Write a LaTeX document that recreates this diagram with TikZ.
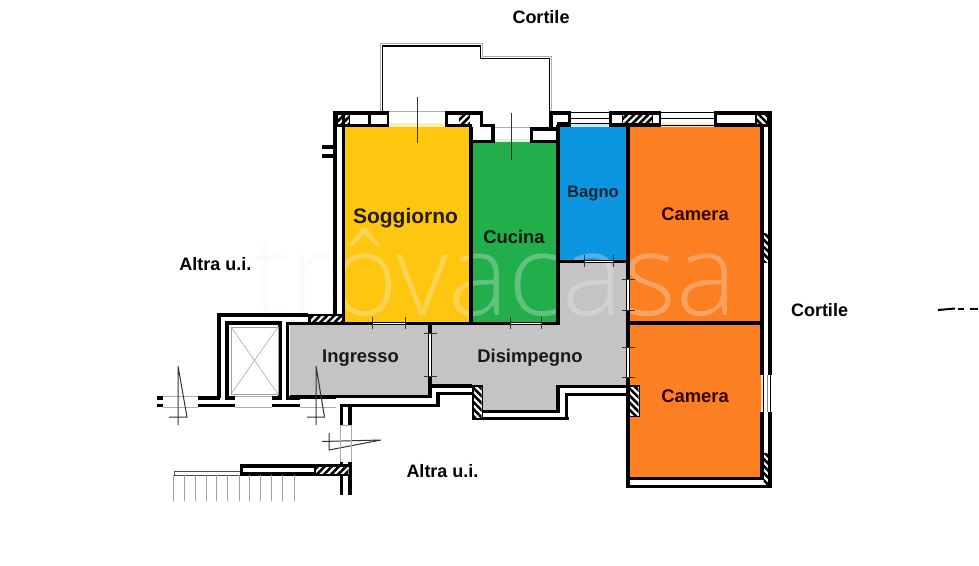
\documentclass[tikz,border=0pt]{standalone}
\usepackage{fontspec}
\setmainfont{Liberation Sans}
\usetikzlibrary{patterns.meta}
\definecolor{cyel}{HTML}{FFC60F}
\definecolor{cgrn}{HTML}{22AE4A}
\definecolor{cblu}{HTML}{0C96E0}
\definecolor{corg}{HTML}{FC7F22}
\definecolor{cgry}{HTML}{C4C4C4}
\definecolor{cthin}{HTML}{8A8A8A}
\definecolor{cwm}{HTML}{F2F2F2}
\tikzset{
  x=1pt,y=-1pt,
  wall/.style={line width=3.5pt,black,line cap=butt,line join=miter},
  pale/.style={line width=.7pt,cthin!70},
  tickl/.style={line width=1pt,black!80},
  hatchp/.style={pattern={Lines[angle=45,distance=5pt,line width=2.6pt]},pattern color=black},
  hatchn/.style={pattern={Lines[angle=-45,distance=5pt,line width=2.6pt]},pattern color=black},
  whitebox/.style={fill=white,draw=none},
  lbl/.style={font=\bfseries\fontsize{#1}{#1}\selectfont,inner sep=0pt},
  lbl/.default=17
}
\newcommand{\hatchbox}[5]{\fill[white] (#2,#3) rectangle (#4,#5); \fill[#1] (#2,#3) rectangle (#4,#5);}
\newcommand{\doortick}[2]{\draw[tickl] (#1-6.5,#2) -- (#1+6.5,#2);}
\newcommand{\doortickv}[2]{\draw[tickl] (#1,#2-6) -- (#1,#2+6);}
\begin{document}
\begin{tikzpicture}
\useasboundingbox (0,0) rectangle (979,565);
\fill[white] (0,0) rectangle (979,565);
% rooms
\fill[cyel] (345,127) rectangle (470,322);
\fill[cgrn] (472,142) rectangle (558,322);
\fill[cblu] (559,127) rectangle (628,261);
\fill[corg] (629,127) rectangle (761,322);
\fill[corg] (629,324) rectangle (761,478);
\fill[cgry] (290,325) -- (429,325) -- (429,396) -- (290,396) -- cycle;
\fill[cgry] (431,325) -- (558,325) -- (558,263) -- (628,263) -- (628,385) -- (558,385) -- (558,411) -- (482,411) -- (482,385) -- (431,385) -- cycle;
% window reflections
\fill[cyel!30] (389,123) rectangle (445,127);
\fill[cgrn!15] (492,139) rectangle (531,142);
\fill[cblu!20] (571,123) rectangle (609,127);
\fill[corg!20] (662,123) rectangle (713,127);
% watermark
\node[inner sep=0pt,text=cwm,opacity=.3] (wm) at (494,272)
  {\fontspec{Open Sans Light}\fontsize{114}{114}\selectfont tr\^ovacasa};
% balcony
\draw[line width=.9pt,black!32] (380.5,111) -- (380.5,43.5) -- (482.5,43.5) -- (482.5,56.5) -- (551.5,56.5) -- (551.5,111);
\draw[line width=1.3pt,black] (382.5,111) -- (382.5,46) -- (480.5,46) -- (480.5,58.5) -- (549.5,58.5) -- (549.5,111);
% top wall left
\fill[black] (333,111) rectangle (389,127);
\fill[whitebox] (350,115) rectangle (368,124);
\fill[whitebox] (371,115) rectangle (387,124);
\hatchbox{hatchp}{338}{115}{349}{124}
\fill[black] (445,111) rectangle (483,127);
\fill[whitebox] (448,115) rectangle (459,124);
\hatchbox{hatchp}{459}{115}{470}{124}
\fill[whitebox] (470,115) rectangle (480,127);
\draw[pale] (389,111) -- (445,111);
\draw[tickl] (417,97) -- (417,143);
% recess
\fill[black] (470,124) rectangle (495,143);
\fill[whitebox] (472,115) rectangle (480,127);
\fill[whitebox] (473,127) rectangle (491,139.5);
\fill[black] (530,127) rectangle (559,143);
\fill[whitebox] (533,131) rectangle (556,140);
\draw[pale] (495,127) -- (530,127);
\draw[tickl] (511,113) -- (511,160);
\fill[black] (549,111) rectangle (571,127);
\fill[whitebox] (553,115) rectangle (568,122);
\fill[whitebox] (553,122) rectangle (557,127);
\fill[black] (557,125) rectangle (571,127);
% windows top
\draw[black,line width=.8pt] (571,112) -- (609,112) (571,118) -- (609,118) (571,123) -- (609,123);
\draw[black,line width=.8pt] (661,112) -- (714,112) (661,118) -- (714,118) (661,125) -- (714,125);
\fill[black] (609,111) rectangle (661,127);
\fill[whitebox] (612,115) rectangle (622,123);
\hatchbox{hatchp}{623}{115}{652}{123}
\fill[whitebox] (653,115) rectangle (659,123);
\fill[black] (714,111) rectangle (771,127);
\fill[whitebox] (717,115) rectangle (755,123);
\hatchbox{hatchn}{757}{115}{767}{124}
% left double wall
\draw[wall] (335,111) -- (335,322);
\draw[wall] (343.5,111) -- (343.5,323);
\draw[wall] (322,147) -- (336,147) (322,156) -- (336,156);
\fill[white] (337,127) rectangle (341.5,312);
% interior walls
\draw[wall] (471,127) -- (471,322);
\draw[wall] (558.2,125) -- (558.2,323.5);
\draw[wall] (628,125) -- (628,488);
\draw[wall] (629,323) -- (762,323);
\draw[wall] (558,261.5) -- (628,261.5);
\draw[wall] (345,323.5) -- (560,323.5);
\draw[wall] (430,325) -- (430,398);
% right wall
\draw[wall] (762,127) -- (762,375);
\draw[wall] (762,412) -- (762,480);
\draw[wall] (770,111) -- (770,375);
\draw[wall] (770,412) -- (770,488);
\hatchbox{hatchn}{763.7}{233}{768.3}{262}
\draw[black,line width=.8pt] (763,375) -- (763,412) (770.5,375) -- (770.5,412);
\draw[cthin,line width=.7pt] (767,375) -- (767,412);
\fill[corg!25] (760.5,376) rectangle (762.5,411);
\hatchbox{hatchn}{763.7}{453}{768.3}{485}
\draw[wall] (628,478.5) -- (764,478.5);
\draw[wall] (626.5,486.5) -- (771.5,486.5);
% doors (white slits + ticks)
\fill[white] (372,322.6) rectangle (405,324.4);
\doortickv{372}{323}\doortickv{405}{323}
\fill[white] (510,322.6) rectangle (541,324.4);
\doortickv{510}{323}\doortickv{541}{323}
\fill[white] (584,260.6) rectangle (613,262.4);
\doortickv{584}{261}\doortickv{613}{261}
\fill[white] (429.2,333) rectangle (431,376);
\doortick{430}{333}\doortick{430}{376}
\fill[white] (627.2,279) rectangle (629,310);
\doortick{628}{279}\doortick{628}{310}
\fill[white] (627.2,347) rectangle (629,377);
\doortick{628}{347}\doortick{628}{377}
% bottom walls of Disimpegno
\draw[wall] (430,396.5) -- (290,396.5);
\draw[wall] (430,386) -- (472,386);
\draw[wall] (438,392) -- (438,405.5);
\draw[wall] (472,393.5) -- (436.5,393.5);
\draw[wall] (340,405.5) -- (439.5,405.5);
\draw[wall] (482,411.5) -- (559.5,411.5);
\draw[wall] (482,418.5) -- (569,418.5);
\draw[wall] (558,411.5) -- (558,386.5) -- (628,386.5);
\draw[wall] (566.5,420) -- (566.5,394.5) -- (628,394.5);
\fill[black] (472,385) rectangle (483,420);
\hatchbox{hatchn}{473.5}{386.5}{481.5}{418}
\fill[black] (628,385) rectangle (640,417);
\hatchbox{hatchn}{630}{386.5}{638.5}{415.5}
% lift
\draw[wall] (219,398) -- (219,315) -- (308,315);
\fill[black] (308,314) rectangle (345,325);
\hatchbox{hatchp}{311}{315.5}{342}{322}
\draw[wall] (227,398) -- (227,323) -- (280,323) -- (280,398);
\draw[wall] (287.5,398) -- (287.5,323.5) -- (345,323.5);
\draw[line width=.5pt,cthin!80] (231,327) rectangle (278,394);
\draw[line width=.5pt,cthin!80] (231,327) -- (278,394) (278,327) -- (231,394);
% entrance stubs
\draw[wall] (198,398) -- (220,398) (225,398) -- (235,398) (272,398) -- (282,398) (286,398) -- (300,398);
\draw[wall] (198,405.5) -- (235,405.5) (272,405.5) -- (300,405.5);
\draw[wall] (157,398) -- (163,398) (157,405.5) -- (163,405.5);
\draw[pale] (163,396.5) -- (198,396.5) (163,407.5) -- (198,407.5);
\draw[pale] (235,396.5) -- (272,396.5) (235,407.5) -- (272,407.5);
\draw[pale] (300,396.5) -- (336,396.5) (300,407.5) -- (336,407.5);
\draw[wall] (336,397) -- (290,397);
% door symbols
\coordinate (d1a) at (178,366); \coordinate (d1b) at (178,425); \coordinate (d1c) at (187,417); \coordinate (d1d) at (169,417);
\draw[tickl] (d1a) -- (d1b) (d1a) -- (d1c) -- (d1d);
\coordinate (d2a) at (316,366); \coordinate (d2b) at (316,425); \coordinate (d2c) at (324.5,417); \coordinate (d2d) at (307,417);
\draw[tickl] (d2a) -- (d2b) (d2a) -- (d2c) -- (d2d);
\coordinate (d3a) at (329,433); \coordinate (d3b) at (329,450); \coordinate (d3c) at (381,440); \coordinate (d3d) at (322,441.5);
\draw[tickl] (d3a) -- (d3b) -- (d3c) -- (d3d);
% corridor walls below entrance
\draw[wall] (341.5,404) -- (341.5,425) (350,404) -- (350,425);
\draw[pale] (340,425) -- (340,462) (351.5,425) -- (351.5,462);
\draw[wall] (341.5,462) -- (341.5,495) (350,462) -- (350,495);
\draw[pale] (340,425) -- (351.5,425);
% lower wall
\fill[black] (240,464) rectangle (350,476);
\fill[whitebox] (243,468) rectangle (314,472);
\hatchbox{hatchp}{316}{466.5}{348.5}{474}
\draw[line width=.8pt,black!70] (174,471.5) -- (240,471.5);
\draw[line width=.8pt,black!70] (174,475) -- (240,475) (174,471.5) -- (174,475);
\foreach \xx in {173.5,184.5,195,206,216.5,227.5,239,249.5,260.5,271.5,282.5,294}
  \draw[line width=.5pt,cthin!80] (\xx,475) -- (\xx,501);
% far right dash
\draw[line width=2pt,black] (938,310) -- (955,308.5);
\draw[line width=2pt,black] (958,308.5) -- (964,308.5) (970,308.5) -- (978,308.5);
% labels
\node[lbl=18] (cortop) at (541,17) {Cortile};
\node[lbl=18] (corrt) at (819.5,310) {Cortile};
\node[lbl=18] (alt1) at (215.5,264) {Altra u.i.};
\node[lbl=18] (alt2) at (442.5,471) {Altra u.i.};
\node[lbl=21,text=black!85!cyel] (sog) at (405.5,218) {Soggiorno};
\node[lbl=18.4,text=black!85!cgrn] (cuc) at (514,237) {Cucina};
\node[lbl=16.6,text=black!75!cblu] (bag) at (593,193.5) {Bagno};
\node[lbl=18.4,text=black!80!red] (cam1) at (695,214) {Camera};
\node[lbl=18.4,text=black!80!red] (cam2) at (695,396) {Camera};
\node[lbl=18.4,text=black!90] (ing) at (360.5,358.5) {Ingresso};
\node[lbl=18.4,text=black!90] (dis) at (530,358) {Disimpegno};
\end{tikzpicture}
\end{document}
